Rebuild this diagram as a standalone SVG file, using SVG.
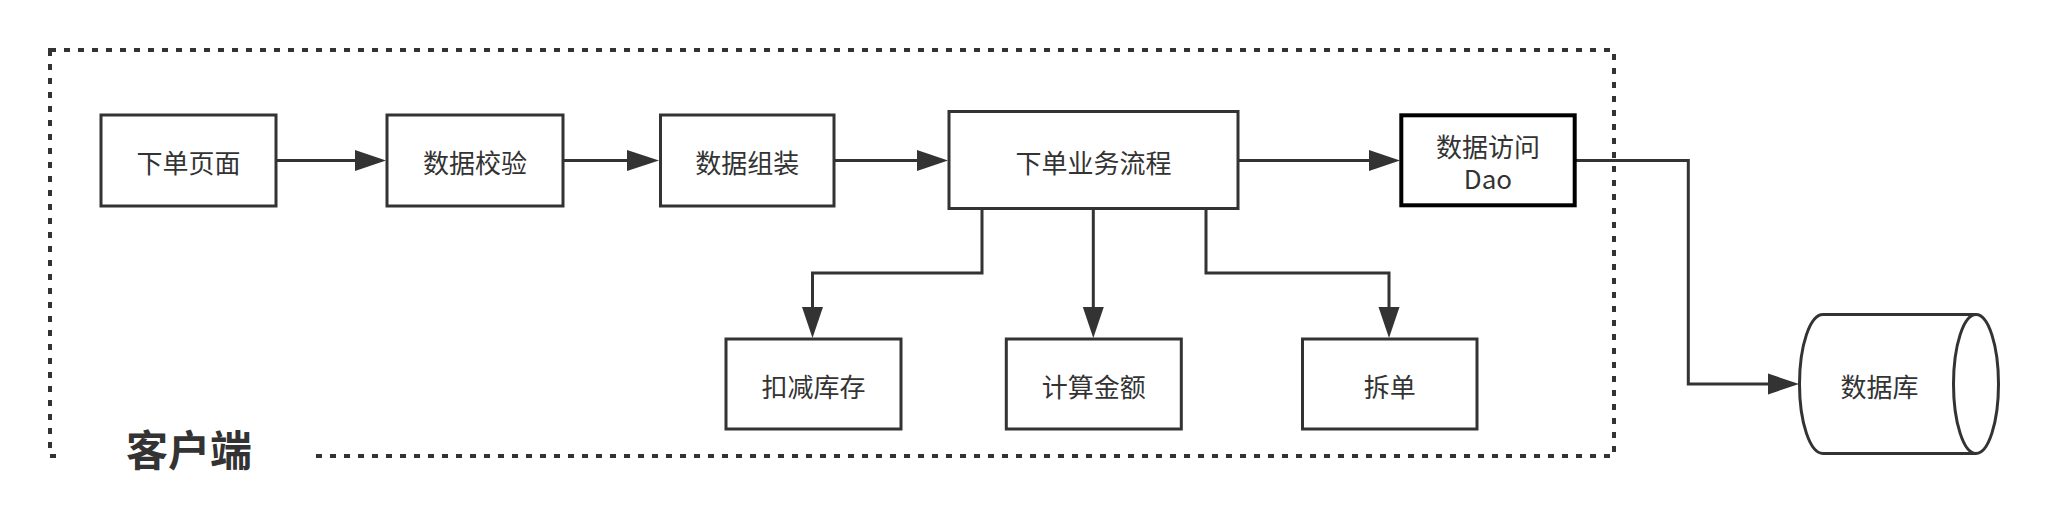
<svg xmlns="http://www.w3.org/2000/svg" width="2049" height="531" viewBox="0 0 2049 531">
<style>
  .box { fill: #ffffff; stroke: #333333; stroke-width: 3; }
  .dao { fill: #ffffff; stroke: #000000; stroke-width: 4; }
  .lbl { font-family: "Noto Sans CJK SC", "Noto Sans", sans-serif; font-size: 26px; fill: #333333; text-anchor: middle; }
  .title { font-family: "Noto Sans CJK SC", "Noto Sans", sans-serif; font-size: 42px; font-weight: bold; fill: #333333; text-anchor: middle; }
  .conn { fill: none; stroke: #333333; stroke-width: 3; }
  .head { fill: #333333; stroke: none; }
  .frame { fill: none; stroke: #333333; stroke-width: 4; stroke-dasharray: 6 8; }
</style>
<rect width="2049" height="531" fill="#ffffff"/>

<g id="client-frame">
  <rect class="frame" x="50" y="50" width="1564" height="406"/>
  <rect x="62" y="436" width="252" height="40" fill="#ffffff"/>
  <text class="title" x="189" y="466">客户端</text>
</g>

<g id="connectors">
  <path class="conn" d="M276,160.5 H356"/>
  <polygon class="head" points="355,150 386,160.5 355,171"/>
  <path class="conn" d="M563,160.5 H628"/>
  <polygon class="head" points="627,150 659,160.5 627,171"/>
  <path class="conn" d="M834,160.5 H918"/>
  <polygon class="head" points="917,150 948,160.5 917,171"/>
  <path class="conn" d="M1238,160.5 H1370"/>
  <polygon class="head" points="1369,150 1400,160.5 1369,171"/>
  <path class="conn" d="M982,208.5 V273 H812.5 V308"/>
  <polygon class="head" points="802,307 812.5,338 823,307"/>
  <path class="conn" d="M1093.3,208.5 V308"/>
  <polygon class="head" points="1082.8,307 1093.3,338 1103.8,307"/>
  <path class="conn" d="M1206,208.5 V273 H1389 V308"/>
  <polygon class="head" points="1378.5,307 1389,338 1399.5,307"/>
  <path class="conn" d="M1575,160.5 H1688.3 V384 H1769"/>
  <polygon class="head" points="1768,373.5 1799,384 1768,394.5"/>
</g>

<g id="node-xiadan-page">
  <rect class="box" x="101" y="115" width="175" height="91"/>
  <text class="lbl" x="188.5" y="173">下单页面</text>
</g>
<g id="node-validate">
  <rect class="box" x="387" y="115" width="176" height="91"/>
  <text class="lbl" x="475" y="173">数据校验</text>
</g>
<g id="node-assemble">
  <rect class="box" x="660.5" y="115" width="173.5" height="91"/>
  <text class="lbl" x="747.3" y="173">数据组装</text>
</g>
<g id="node-process">
  <rect class="box" x="949" y="111.5" width="289" height="97"/>
  <text class="lbl" x="1093.5" y="173">下单业务流程</text>
</g>
<g id="node-dao">
  <rect class="dao" x="1401.3" y="115.3" width="173.4" height="90"/>
  <text class="lbl" x="1488" y="156.5">数据访问<tspan x="1488" y="188.5">Dao</tspan></text>
</g>
<g id="node-stock">
  <rect class="box" x="726" y="339" width="175" height="90"/>
  <text class="lbl" x="813.5" y="397">扣减库存</text>
</g>
<g id="node-amount">
  <rect class="box" x="1006.3" y="339" width="175" height="90"/>
  <text class="lbl" x="1093.8" y="397">计算金额</text>
</g>
<g id="node-split">
  <rect class="box" x="1302.5" y="339" width="174.5" height="90"/>
  <text class="lbl" x="1389.7" y="397">拆单</text>
</g>
<g id="node-database">
  <path class="box" d="M1823,314.5 H1976 A22.5,69.5 0 0 1 1976,453.5 H1823 A23.5,69.5 0 0 1 1823,314.5 Z"/>
  <path class="box" fill="none" d="M1976,314.5 A22.5,69.5 0 0 0 1976,453.5"/>
  <text class="lbl" x="1879.5" y="397">数据库</text>
</g>
</svg>
